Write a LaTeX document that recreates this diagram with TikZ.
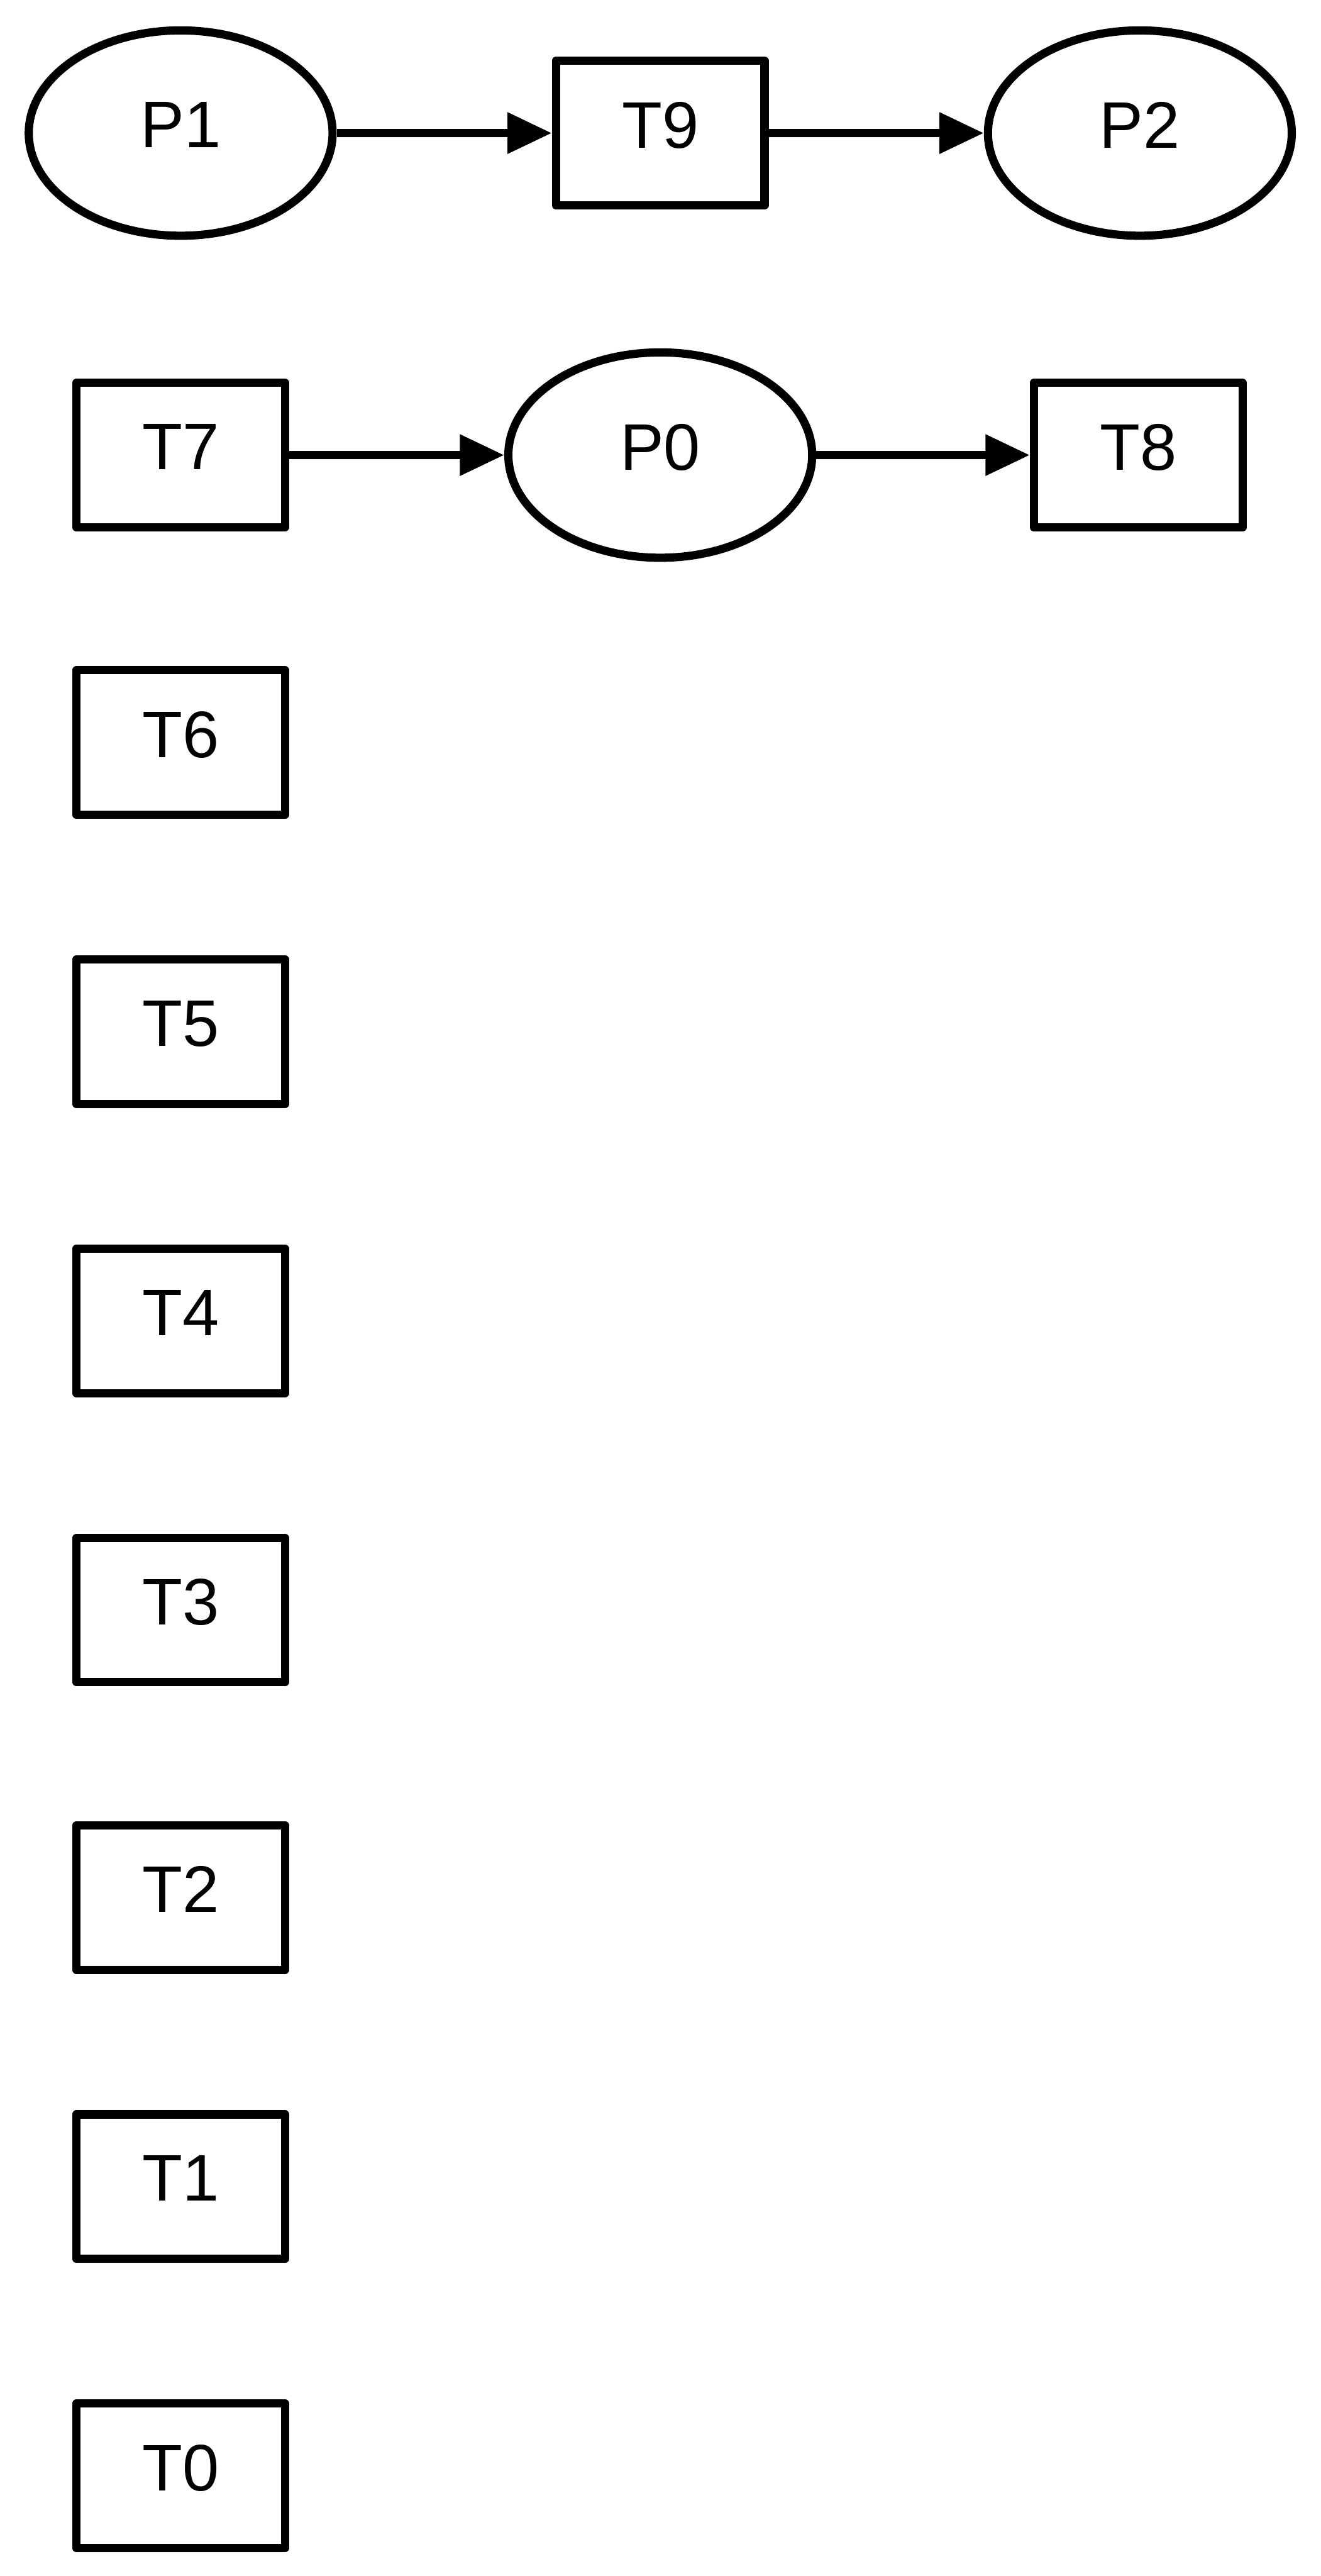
\documentclass[tikz,border=0pt]{standalone}
\usepackage{fontspec}
\setmainfont{Liberation Sans}
\usetikzlibrary{shapes.geometric,arrows.meta}
\begin{document}
\begin{tikzpicture}[x=0.05cm,y=-0.05cm,
  base/.style={draw=black,line width=0.25cm,line join=round,inner sep=0pt,
    font=\fontsize{57}{60}\selectfont,text depth=0.5cm,fill=white},
  place/.style={base,ellipse,minimum width=9.25cm,minimum height=6.25cm},
  trans/.style={base,rectangle,minimum width=6.35cm,minimum height=4.4cm},
  arc/.style={line width=0.25cm,-{Triangle[length=1.35cm,width=1.2cm]}}]
\useasboundingbox (0,0) rectangle (804,1568);
\node[place] (P1) at (110,81) {P1};
\node[trans] (T9) at (402,81) {T9};
\node[place] (P2) at (694,81) {P2};
\node[trans] (T7) at (110,277) {T7};
\node[place] (P0) at (402,277) {P0};
\node[trans] (T8) at (693,277) {T8};
\node[trans] (T6) at (110,452) {T6};
\node[trans] (T5) at (110,628) {T5};
\node[trans] (T4) at (110,804) {T4};
\node[trans] (T3) at (110,980) {T3};
\node[trans] (T2) at (110,1155) {T2};
\node[trans] (T1) at (110,1331) {T1};
\node[trans] (T0) at (110,1507) {T0};
\draw[arc] (P1) -- (T9);
\draw[arc] (T9) -- (P2);
\draw[arc] (T7) -- (P0);
\draw[arc] (P0) -- (T8);
\end{tikzpicture}
\end{document}
